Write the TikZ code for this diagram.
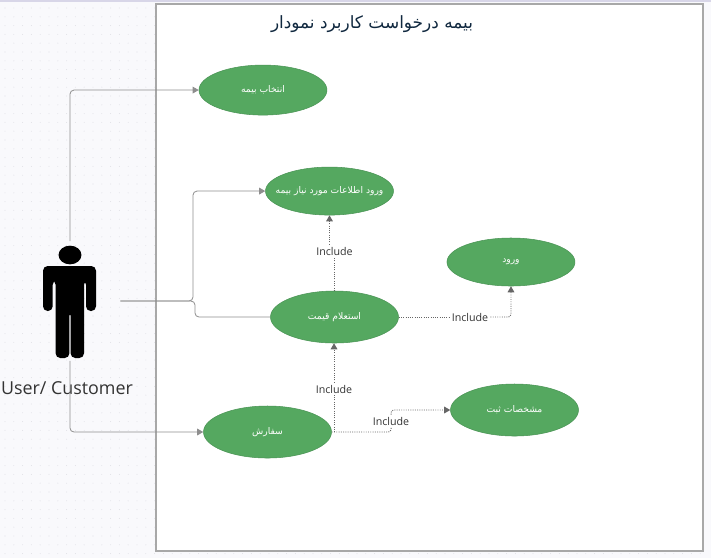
\documentclass[tikz,border=0pt]{standalone}
\usepackage{fontspec}
\setmainfont{Open Sans}
\newfontfamily\arabicfont[Script=Arabic]{DejaVu Sans}
\TeXXeTstate=1
\usetikzlibrary{shapes.geometric,arrows.meta}
\definecolor{canvas}{HTML}{F9F9FC}
\definecolor{griddot}{HTML}{E2E2E8}
\definecolor{topline}{HTML}{D8D6E8}
\definecolor{usegreen}{HTML}{55A860}
\definecolor{useedge}{HTML}{4A9455}
\definecolor{linkgray}{HTML}{8E8E8E}
\definecolor{framegray}{HTML}{A8A8A8}
\definecolor{titlenavy}{HTML}{10283F}
\definecolor{labelgray}{HTML}{333333}
\begin{document}
\begin{tikzpicture}[x=0.75pt, y=-0.75pt, node distance=1cm, auto]
        \tikzstyle{usecase}=[draw=useedge, fill=usegreen, ellipse, minimum width=96pt, minimum height=37.5pt, inner xsep=-20pt, inner ysep=0pt, text=white, font=\arabicfont\fontsize{6.9}{8.5}\selectfont];
        \tikzstyle{tag}=[text=labelgray, inner sep=1.5pt, font=\fontsize{8}{10}\selectfont];
        \tikzstyle{link}=[draw=linkgray, line width=0.6pt, rounded corners=3pt];
        \tikzstyle{inclink}=[draw=black!60, line width=0.7pt, densely dotted, rounded corners=2pt];
        \tikzstyle{tip}=[-{Triangle[length=4.5pt, width=5pt]}];

        \useasboundingbox (0,0) rectangle (711,558);
        \fill[canvas] (0,0) rectangle (711,558);
        \draw[topline, line width=0.8pt] (0,1) -- (711,1);
        \foreach \i in {0,...,79} {
            \foreach \j in {0,...,62} {
                \fill[griddot] (5+8.8*\i, 8+8.8*\j) circle (0.4pt);
            }
        }
        \draw[framegray, fill=white, line width=0.8pt] (156,4) rectangle (703,551);

        \node[text=titlenavy, inner sep=0pt, font=\arabicfont\fontsize{12.7}{15}\selectfont] (title) at (372,24) {\beginR بیمه درخواست کاربرد نمودار\endR};

        \node[usecase, minimum height=39pt] (quote) at (334.5,317) {\beginR استعلام قیمت\endR};
        \node[usecase, minimum height=36pt, above of=quote, xshift=-3.75pt, yshift=66pt] (info) {\beginR ورود اطلاعات مورد نیاز بیمه\endR};
        \node[usecase, above of=info, xshift=-49.9pt, yshift=47.3pt] (select) {\beginR انتخاب بیمه\endR};
        \node[usecase, minimum height=36pt, right of=quote, xshift=103.9pt, yshift=41.25pt] (login) {\beginR ورود\endR};
        \node[usecase, minimum height=39pt, below of=quote, xshift=-50.25pt, yshift=-57.8pt] (order) {\beginR سفارش\endR};
        \node[usecase, minimum height=39pt, right of=order, xshift=156.8pt, yshift=16.5pt] (register) {\beginR مشخصات ثبت\endR};

        \node[minimum width=75pt, minimum height=89.25pt, inner sep=0pt] (actor) at (70,301) {};
        \fill[black] (70,255) ellipse (8.6pt and 7pt);
        \fill[black, rounded corners=3.5pt] (43,311) -- (43,266) -- (96,266) -- (96,311) -- (86,311) -- (86,280) -- (84,280) -- (84,358) -- (70.6,358) -- (70.6,311) -- (69.4,311) -- (69.4,358) -- (55.6,358) -- (55.6,280) -- (52.7,280) -- (52.7,311) -- cycle;
        \node[below of=actor, xshift=-2.25pt, yshift=-36.8pt, text=labelgray, inner sep=0pt, font=\fontsize{13.4}{16}\selectfont] (customer) {User/ Customer};

        \node[tag, above of=quote, yshift=21pt] (incinfo) {Include};
        \node[tag, right of=quote, xshift=73.2pt] (inclogin) {Include};
        \node[tag, above of=order, xshift=49.9pt, yshift=3.8pt] (incquote) {Include};
        \node[tag, right of=order, xshift=64.2pt, yshift=8.25pt] (increg) {Include};

        \coordinate (branchinfo) at (193,301);
        \coordinate (branchquote) at (195,301);

        \draw[link, tip] (actor.north) |- (select.west);
        \draw[link, tip] (actor.east) -- (branchinfo) |- (info.west);
        \draw[link] (actor.east) -- (branchquote) |- (quote.west);
        \draw[link, tip] (actor.south) |- (order.west);

        \draw[inclink] (quote.north) -- (incinfo.south);
        \draw[inclink, tip] (incinfo.north -| info.south) -- (info.south);
        \draw[inclink] (quote.east) -- (inclogin.west);
        \draw[inclink, tip] (inclogin.east) -| (login.south);
        \draw[inclink] (incquote.south |- order.east) -- (incquote.south);
        \draw[inclink, tip] (incquote.north) -- (incquote.north |- quote.south);
        \draw[inclink] (order.east) -| (increg.south);
        \draw[inclink, tip] (increg.north) |- (register.west);
    \end{tikzpicture}
\end{document}
